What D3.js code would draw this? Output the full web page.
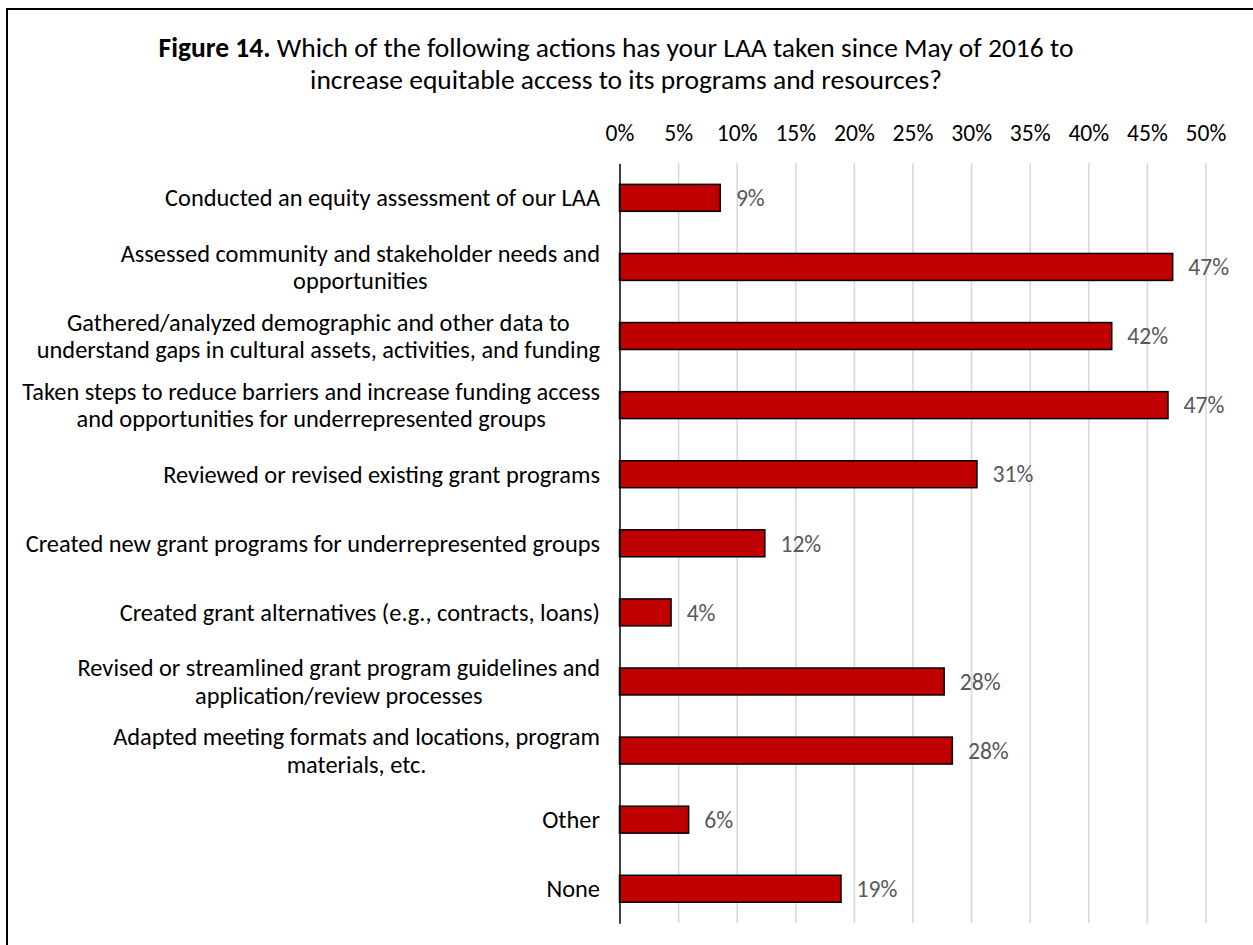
<!DOCTYPE html>
<html>
<head>
<meta charset="utf-8">
<script src="https://cdn.jsdelivr.net/npm/d3@7"></script>
<style>
  html, body { margin: 0; padding: 0; background: #fff; }
  svg { display: block; font-family: Carlito, Calibri, Lato, sans-serif; }
</style>
</head>
<body>
<svg id="chart" width="1253" height="945"></svg>
<script>
// Survey responses: share of LAAs reporting each action (percent)
const categories = [
  ["Conducted an equity assessment of our LAA"],
  ["Assessed community and stakeholder needs and", "opportunities"],
  ["Gathered/analyzed demographic and other data to", "understand gaps in cultural assets, activities, and funding"],
  ["Taken steps to reduce barriers and increase funding access", "and opportunities for underrepresented groups"],
  ["Reviewed or revised existing grant programs"],
  ["Created new grant programs for underrepresented groups"],
  ["Created grant alternatives (e.g., contracts, loans)"],
  ["Revised or streamlined grant program guidelines and", "application/review processes"],
  ["Adapted meeting formats and locations, program", "materials, etc."],
  ["Other"],
  ["None"]
];
const values = [8.6, 47.2, 42.0, 46.8, 30.5, 12.4, 4.4, 27.7, 28.4, 5.9, 18.9];
const tickValues = [0, 5, 10, 15, 20, 25, 30, 35, 40, 45, 50];
const titleBold = "Figure 14.";
const titleLine1 = " Which of the following actions has your LAA taken since May of 2016 to";
const titleLine2 = "increase equitable access to its programs and resources?";

const keys = categories.map(c => c.join(" "));
const rows = keys.map((k, i) => ({ key: k, lines: categories[i], value: values[i] }));

const svg = d3.select("#chart");
const fontSize = 23.6;
const categorySize = 24.4;
const titleSize = 27.5;

// Frame around the figure
svg.append("rect")
  .attr("x", 7).attr("y", 9)
  .attr("width", 1300).attr("height", 1000)
  .attr("fill", "none").attr("stroke", "#000").attr("stroke-width", 2);

// Title
const title = svg.append("text")
  .attr("x", 616).attr("y", 57)
  .attr("text-anchor", "middle")
  .attr("font-size", titleSize)
  .attr("fill", "#000");
title.append("tspan").attr("font-weight", "bold").text(titleBold);
title.append("tspan").text(titleLine1);
svg.append("text")
  .attr("x", 626).attr("y", 89)
  .attr("text-anchor", "middle")
  .attr("font-size", titleSize)
  .attr("fill", "#000")
  .text(titleLine2);

// Scales
const plotTop = 163.3, plotBottom = 923.3;
const x = d3.scaleLinear().domain([0, 50]).range([619.5, 1205.5]);
const y = d3.scaleBand().domain(keys).range([plotTop, plotBottom])
  .paddingInner(0.61).paddingOuter(0.305);

// Vertical gridlines
const grid = svg.append("g")
  .attr("transform", `translate(0,${plotTop})`)
  .call(d3.axisBottom(x).tickValues(tickValues).tickSize(plotBottom - plotTop).tickFormat(""));
grid.select(".domain").remove();
grid.selectAll(".tick line")
  .attr("stroke", "#d9d9d9").attr("stroke-width", 1.6)
  .filter(d => d === 0).remove();

// Tick labels along the top
const xAxis = svg.append("g")
  .attr("transform", `translate(0,${plotTop - 22})`)
  .call(d3.axisTop(x).tickValues(tickValues).tickSize(0).tickPadding(0).tickFormat(d => d + "%"));
xAxis.attr("font-family", null).attr("font-size", null);
xAxis.select(".domain").remove();
xAxis.selectAll("text")
  .attr("font-size", fontSize)
  .attr("fill", "#000");

// Bars
svg.append("g").selectAll("rect")
  .data(rows).join("rect")
  .attr("x", x(0))
  .attr("y", d => y(d.key))
  .attr("width", d => x(d.value) - x(0))
  .attr("height", y.bandwidth())
  .attr("fill", "#c00000")
  .attr("stroke", "#000")
  .attr("stroke-width", 1.5);

// Category axis line
const yAxis = svg.append("g")
  .attr("transform", `translate(${x(0)},0)`)
  .call(d3.axisLeft(y).tickSize(0).tickFormat(""));
yAxis.select(".domain").attr("stroke", "#000").attr("stroke-width", 1.5);

// Category labels: lines centred on each other, block right-aligned to the axis
const labelRight = 600;
const lineHeight = 27.5;
const labels = svg.append("g")
  .attr("font-size", categorySize)
  .attr("fill", "#000");
rows.forEach(r => {
  const cy = y(r.key) + y.bandwidth() / 2;
  const t = labels.append("text").attr("text-anchor", "middle");
  const n = r.lines.length;
  const spans = r.lines.map((line, i) =>
    t.append("tspan")
      .attr("y", cy + (i - (n - 1) / 2) * lineHeight)
      .attr("dy", "0.35em")
      .text(line));
  const maxW = d3.max(spans, s => s.node().getComputedTextLength());
  spans.forEach(s => s.attr("x", labelRight - maxW / 2));
});

// Value labels
svg.append("g")
  .attr("font-size", fontSize)
  .attr("fill", "#595959")
  .selectAll("text")
  .data(rows).join("text")
  .attr("x", d => x(d.value) + 15.6)
  .attr("y", d => y(d.key) + y.bandwidth() / 2)
  .attr("dy", "0.35em")
  .text(d => d3.format(".0f")(d.value) + "%");
</script>
</body>
</html>
